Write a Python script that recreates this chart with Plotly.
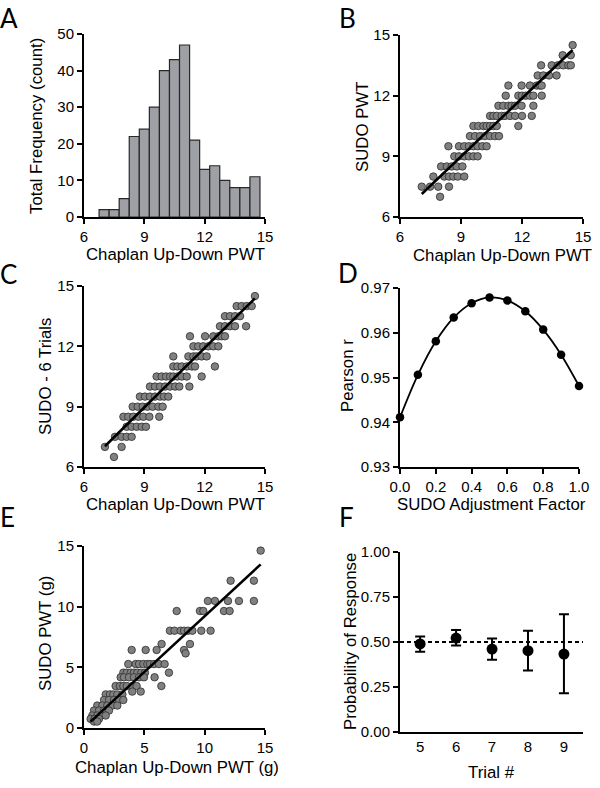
import plotly.graph_objects as go

# ---------------- data ----------------
# A: histogram of Chaplan up-down PWT
A_bin_centers = [7.0, 7.5, 8.0, 8.5, 9.0, 9.5, 10.0, 10.5, 11.0, 11.5, 12.0, 12.5, 13.0, 13.5, 14.0, 14.5]
A_counts = [2, 2, 5, 22, 24, 30, 40, 43, 47, 21, 13, 14, 10, 8, 8, 11]

# B: SUDO PWT (rows) vs Chaplan PWT
B_levels = [14.5, 14.0, 13.5, 13.0, 12.5, 12.0, 11.5, 11.0, 10.5, 10.0, 9.5, 9.0, 8.5, 8.0, 7.5, 7.0]
B_chaplan = [
    [14.49],
    [14.0, 14.4],
    [12.94, 13.46, 13.76, 14.03, 14.28, 14.4],
    [12.77, 13.05, 13.33, 13.7],
    [11.33, 11.98, 12.39, 12.72, 12.89, 12.97],
    [11.2, 11.82, 12.0, 12.18, 12.39, 12.56, 12.97],
    [10.84, 11.08, 11.33, 11.49, 11.66, 11.98, 12.56],
    [10.43, 10.59, 10.76, 11.0, 11.16, 11.41, 11.66, 12.0, 12.48],
    [9.61, 9.85, 10.1, 10.26, 10.43, 10.59, 10.76, 11.82],
    [9.44, 9.69, 9.94, 10.18, 10.43, 10.67, 10.87],
    [8.38, 8.9, 9.16, 9.39, 9.61, 9.82, 10.05, 10.26],
    [8.67, 8.9, 9.16, 9.39, 9.61, 9.82],
    [8.02, 8.3, 8.54, 8.79, 9.07],
    [7.64, 8.18, 8.41, 8.62, 8.84, 9.16],
    [7.07, 7.48, 7.88, 8.41],
    [7.97],
]
B_fit = (0.96, 0.35)  # slope, intercept

# C: SUDO - 6 trials (rows) vs Chaplan PWT
C_levels = [14.5, 14.0, 13.5, 13.0, 12.5, 12.0, 11.5, 11.0, 10.5, 10.0, 9.5, 9.0, 8.5, 8.0, 7.5, 7.0, 6.5]
C_chaplan = [
    [14.5],
    [13.59, 13.84, 14.09, 14.34],
    [13.01, 13.26, 13.51, 13.76],
    [12.76, 13.01, 13.26, 13.51, 14.06],
    [11.27, 12.02, 12.43, 12.68, 12.85, 13.01],
    [11.44, 11.68, 11.93, 12.18, 12.43, 12.68],
    [10.44, 11.19, 11.44, 11.6, 11.85, 12.1],
    [10.44, 10.64, 10.86, 11.11, 11.36, 11.52, 12.51],
    [9.61, 9.86, 10.08, 10.28, 10.44, 10.64, 10.86, 11.11, 11.85],
    [9.28, 9.53, 9.78, 10.03, 10.28, 10.53, 10.74, 11.24],
    [8.78, 9.03, 9.28, 9.53, 9.78, 9.98, 10.19],
    [8.42, 8.67, 8.92, 9.15, 9.41, 9.7, 9.91],
    [7.96, 8.2, 8.45, 8.7, 8.95, 9.25, 9.74],
    [8.12, 8.37, 8.62, 8.87, 9.08],
    [7.54, 7.87, 8.12, 8.37],
    [7.04, 7.87],
    [7.49],
]
C_fit = (0.985, 0.1)

# D: Pearson r vs SUDO adjustment factor
D_factor = [0.0, 0.1, 0.2, 0.3, 0.4, 0.5, 0.6, 0.7, 0.8, 0.9, 1.0]
D_r = [0.9411, 0.9506, 0.9581, 0.9634, 0.9666, 0.9679, 0.9672, 0.9648, 0.9607, 0.9551, 0.9481]

# E: SUDO PWT (g) vs Chaplan PWT (g)
E_levels = [14.62, 12.14, 10.47, 9.64, 8.02, 6.92, 6.43, 6.15, 5.27, 4.56, 4.18, 3.46, 3.0, 2.77, 2.31, 1.85, 1.44, 1.03, 0.75, 0.53]
E_chaplan = [
    [14.64],
    [12.15, 14.08],
    [10.27, 10.85, 11.93, 12.84, 14.08],
    [7.68, 9.61, 9.89, 11.6, 12.07],
    [7.12, 7.5, 8.01, 8.29, 8.62, 8.98, 9.72, 10.49],
    [6.43, 8.78],
    [3.95, 5.11, 6.02, 8.29],
    [8.42],
    [3.67, 4.28, 4.56, 4.92, 5.25, 5.47, 5.8, 6.21, 6.68],
    [3.26, 3.54, 3.87, 4.14, 4.42, 4.75, 5.05, 7.04],
    [3.04, 3.31, 3.73, 4.14, 4.56, 4.97, 5.85],
    [2.62, 2.98, 3.26, 3.54, 4.0, 4.36, 6.41],
    [4.0, 4.7],
    [1.8, 2.15, 2.43, 2.76, 3.18],
    [1.66, 2.07, 2.49, 2.9, 3.26],
    [1.1, 1.52, 1.93, 2.35, 2.76],
    [0.83, 1.24, 1.66, 2.07],
    [0.69, 1.1, 1.44, 1.8],
    [0.55, 0.88, 1.24],
    [0.83, 1.1],
]
E_fit = (0.92, 0.02)

# F: probability of response by trial
F_trial = [5, 6, 7, 8, 9]
F_mean = [0.489, 0.522, 0.461, 0.452, 0.433]
F_upper = [0.531, 0.567, 0.520, 0.563, 0.654]
F_lower = [0.446, 0.480, 0.402, 0.341, 0.215]
F_ref = 0.5

# ---------------- helpers ----------------
W, H = 600, 788
FONT = "Liberation Sans, Arial, sans-serif"
PT_FILL = "rgb(128,128,128)"
PT_LINE = "rgb(45,45,45)"


def flatten(levels, rows):
    xs, ys = [], []
    for lv, row in zip(levels, rows):
        for x in row:
            xs.append(x)
            ys.append(lv)
    return xs, ys


def px2x(px):
    return px / W


def py2y(py):
    return 1 - py / H


fig = go.Figure()

# A histogram
fig.add_trace(go.Bar(x=A_bin_centers, y=A_counts, width=0.5,
                     marker=dict(color="rgb(158,160,165)", line=dict(color="rgb(40,40,40)", width=1.2)),
                     xaxis="x", yaxis="y"))


def scatter_panel(levels, rows, fit, xa, ya):
    xs, ys = flatten(levels, rows)
    fig.add_trace(go.Scatter(x=xs, y=ys, mode="markers", cliponaxis=False,
                             marker=dict(size=7.5, color=PT_FILL, line=dict(color=PT_LINE, width=0.8)),
                             xaxis=xa, yaxis=ya))
    x0, x1 = min(xs), max(xs)
    fig.add_trace(go.Scatter(x=[x0, x1], y=[fit[0] * x0 + fit[1], fit[0] * x1 + fit[1]],
                             mode="lines", line=dict(color="black", width=2.6), cliponaxis=False,
                             xaxis=xa, yaxis=ya))


scatter_panel(B_levels, B_chaplan, B_fit, "x2", "y2")
scatter_panel(C_levels, C_chaplan, C_fit, "x3", "y3")

# D
fig.add_trace(go.Scatter(x=D_factor, y=D_r, mode="lines+markers", line=dict(color="black", width=1.8, shape="spline"),
                         marker=dict(size=8.5, color="black"), cliponaxis=False, xaxis="x4", yaxis="y4"))

scatter_panel(E_levels, E_chaplan, E_fit, "x5", "y5")

# F
fig.add_trace(go.Scatter(x=[4.44, 9.53], y=[F_ref, F_ref], mode="lines",
                         line=dict(color="black", width=1.8, dash="4px,3px"), xaxis="x6", yaxis="y6"))
fig.add_trace(go.Scatter(x=F_trial, y=F_mean, mode="markers", cliponaxis=False,
                         marker=dict(size=11, color="black"),
                         error_y=dict(type="data", symmetric=False,
                                      array=[u - m for u, m in zip(F_upper, F_mean)],
                                      arrayminus=[m - l for m, l in zip(F_mean, F_lower)],
                                      color="black", thickness=2, width=5),
                         xaxis="x6", yaxis="y6"))

# axes
common = dict(showline=True, linecolor="black", linewidth=2, ticks="outside", ticklen=5, tickwidth=2,
              tickcolor="black", showgrid=False, zeroline=False, mirror=False, automargin=False,
              tickfont=dict(family=FONT, size=15, color="black"))

panels = {
    "1": ((84, 265), (34, 217)),
    "2": ((400, 583), (35, 217)),
    "3": ((84, 265), (286, 467)),
    "4": ((400, 579), (288, 467)),
    "5": ((84, 265), (546, 728)),
    "6": ((400, 583), (552, 732)),
}
xranges = {"1": [6, 15], "2": [6, 15], "3": [6, 15], "4": [0, 1], "5": [0, 15], "6": [4.44, 9.53]}
yranges = {"1": [0, 50], "2": [6, 15], "3": [6, 15], "4": [0.93, 0.97], "5": [0, 15], "6": [0, 1]}
xticks = {"1": [6, 9, 12, 15], "2": [6, 9, 12, 15], "3": [6, 9, 12, 15],
          "4": [0, 0.2, 0.4, 0.6, 0.8, 1.0], "5": [0, 5, 10, 15], "6": [5, 6, 7, 8, 9]}
yticks = {"1": [0, 10, 20, 30, 40, 50], "2": [6, 9, 12, 15], "3": [6, 9, 12, 15],
          "4": [0.93, 0.94, 0.95, 0.96, 0.97], "5": [0, 5, 10, 15], "6": [0, 0.25, 0.5, 0.75, 1.0]}
xfmt = {"4": ".1f"}
yfmt = {"4": ".2f", "6": ".2f"}

layout_axes = {}
for k, ((x0, x1), (y0, y1)) in panels.items():
    xn = "xaxis" if k == "1" else f"xaxis{k}"
    yn = "yaxis" if k == "1" else f"yaxis{k}"
    xa = dict(common, domain=[px2x(x0), px2x(x1)], range=xranges[k], tickvals=xticks[k],
              anchor="y" if k == "1" else f"y{k}")
    ya = dict(common, domain=[py2y(y1), py2y(y0)], range=yranges[k], tickvals=yticks[k],
              anchor="x" if k == "1" else f"x{k}")
    if k in xfmt:
        xa["tickformat"] = xfmt[k]
    if k in yfmt:
        ya["tickformat"] = yfmt[k]
    if k == "6":
        xa["ticks"] = ""
    layout_axes[xn] = xa
    layout_axes[yn] = ya

annotations = []
TFONT = dict(family=FONT, size=16.8, color="black")


def title(text, x, y, rot=0):
    annotations.append(dict(text=text, x=px2x(x), y=py2y(y), xref="paper", yref="paper",
                            showarrow=False, textangle=rot, font=TFONT, xanchor="center", yanchor="middle"))


title("Chaplan Up-Down PWT", 175, 254)
title("Total Frequency (count)", 37, 126, -90)
title("Chaplan Up-Down PWT", 502, 255)
title("SUDO PWT", 362, 127, -90)
title("Chaplan Up-Down PWT", 175, 504)
title("SUDO - 6 Trials", 45, 376, -90)
title("SUDO Adjustment Factor", 491, 505)
title("Pearson r", 347, 376, -90)
title("Chaplan Up-Down PWT (g)", 177, 767)
title("SUDO PWT (g)", 45, 634, -90)
title("Trial #", 492, 772)
title("Probability of Response", 350, 642, -90)

LFONT = dict(family="Lato, Open Sans, sans-serif", size=26, color="black")
for letter, x, y in [("A", 9, 18), ("B", 347, 18), ("C", 8, 274), ("D", 348, 273), ("E", 7, 517), ("F", 346, 517)]:
    annotations.append(dict(text=letter, x=px2x(x), y=py2y(y), xref="paper", yref="paper",
                            showarrow=False, font=LFONT, xanchor="center", yanchor="middle"))

fig.update_layout(template="none", width=W, height=H, margin=dict(l=0, r=0, t=0, b=0, pad=0), showlegend=False,
                  plot_bgcolor="white", paper_bgcolor="white", annotations=annotations,
                  font=dict(family=FONT, color="black"), **layout_axes)

fig.write_html("out.html", config={"displayModeBar": False},
               post_script="document.body.style.margin='0';document.body.style.overflow='hidden';")
